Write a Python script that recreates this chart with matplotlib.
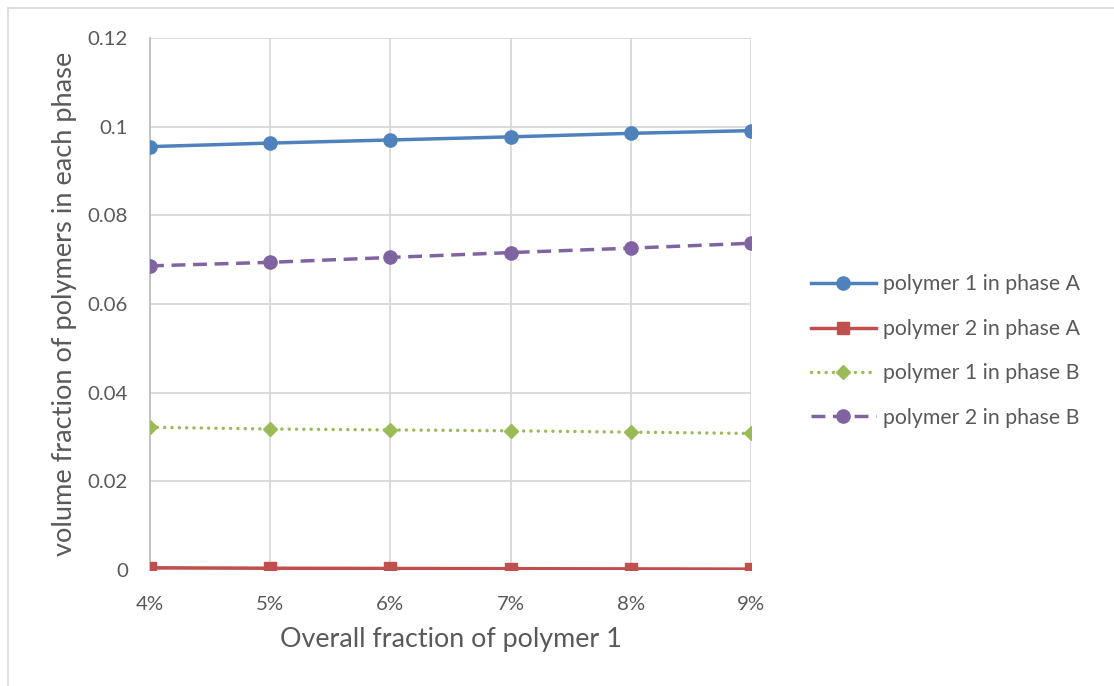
import matplotlib
matplotlib.use("Agg")
import matplotlib.pyplot as plt
from matplotlib.lines import Line2D
from matplotlib.ticker import FuncFormatter

plt.rcParams['font.family'] = ['Lato', 'DejaVu Sans']

# Overall fraction of polymer 1 (x categories)
overall_fraction = [0.04, 0.05, 0.06, 0.07, 0.08, 0.09]
x_labels = ["4%", "5%", "6%", "7%", "8%", "9%"]

# Volume fractions in each phase
p1_phase_a = [0.0955, 0.0963, 0.0970, 0.0977, 0.0985, 0.0991]
p2_phase_a = [0.0005, 0.0004, 0.00035, 0.0003, 0.00025, 0.0002]
p1_phase_b = [0.0322, 0.0318, 0.0316, 0.0314, 0.0311, 0.0308]
p2_phase_b = [0.0686, 0.0694, 0.0705, 0.0716, 0.0726, 0.0737]

y_ticks = [0, 0.02, 0.04, 0.06, 0.08, 0.10, 0.12]

text_color = "#595959"
grid_color = "#d9d9d9"

W, H = 1114, 686
fig = plt.figure(figsize=(W / 100, H / 100), dpi=100)
ax = fig.add_axes([150 / W, 1 - 570 / H, (751 - 150) / W, (570 - 38) / H])

pos = list(range(len(overall_fraction)))
lw = 2.5
ms = 9.5

ax.plot(pos, p1_phase_a, color="#4f81bd", lw=lw, marker="o", ms=ms,
        label="polymer 1 in phase A", zorder=5)
ax.plot(pos, p2_phase_a, color="#c0504d", lw=lw, marker="s", ms=ms - 0.5,
        label="polymer 2 in phase A", zorder=5)
ax.plot(pos, p1_phase_b, color="#9bbb59", lw=lw, marker="D", ms=ms - 2.2,
        linestyle=(0, (0.01, 2.1)), dash_capstyle="round",
        label="polymer 1 in phase B", zorder=5)
ax.plot(pos, p2_phase_b, color="#8064a2", lw=lw, marker="o", ms=ms,
        linestyle=(0, (4.0, 2.2)), label="polymer 2 in phase B", zorder=5)

ax.set_xlim(0, len(pos) - 1)
ax.set_ylim(0, 0.12)
ax.set_xticks(pos)
ax.set_xticklabels(x_labels)
ax.set_yticks(y_ticks)
ax.yaxis.set_major_formatter(FuncFormatter(lambda v, _: "0" if v == 0 else f"{v:g}"))

ax.grid(True, color=grid_color, lw=1.3)
ax.set_axisbelow(True)
for side in ["top", "right", "bottom"]:
    ax.spines[side].set_visible(False)
ax.spines["left"].set_color("#bfbfbf")
ax.spines["left"].set_linewidth(1.3)
ax.tick_params(length=0, labelsize=14.7, colors=text_color)
ax.tick_params(axis="y", pad=16)
ax.tick_params(axis="x", pad=19)

ax.set_xlabel("Overall fraction of polymer 1", fontsize=19.4, color=text_color)
ax.set_ylabel("volume fraction of polymers in each phase", fontsize=19.6,
              color=text_color)
ax.xaxis.set_label_coords(0.5, -(640 - 570) / 532, transform=ax.transAxes)
ax.xaxis.label.set_va("center")
ax.yaxis.set_label_coords((65 - 150) / 601, 0.5, transform=ax.transAxes)
ax.yaxis.label.set_va("center")

leg = fig.legend(loc="upper left", bbox_to_anchor=(802 / W, 1 - 266 / H),
                 frameon=False, fontsize=15.3, labelcolor=text_color,
                 handlelength=3.1, labelspacing=1.15, handletextpad=0.3,
                 borderaxespad=0)

# light frame around the chart area
fig.add_artist(Line2D([8 / W, 1.0], [1 - 7.5 / H, 1 - 7.5 / H], color=grid_color,
                      lw=1.2, transform=fig.transFigure))
fig.add_artist(Line2D([8 / W, 8 / W], [0, 1 - 7.5 / H], color=grid_color,
                      lw=1.2, transform=fig.transFigure))

fig.savefig("out.png", dpi=100)
